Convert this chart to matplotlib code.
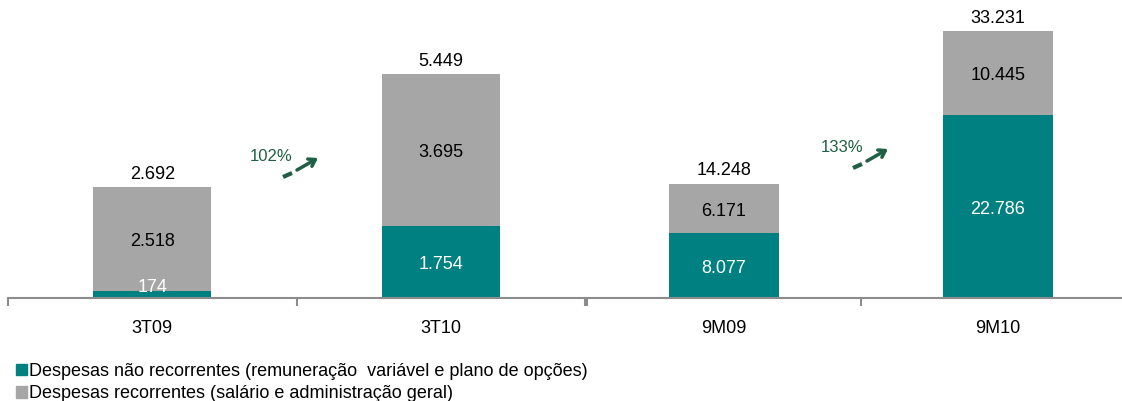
import matplotlib.pyplot as plt
from matplotlib.patches import Patch

plt.rcParams['font.family'] = ['Liberation Sans', 'DejaVu Sans']

# dados (R$ mil)
cat_tri = ['3T09', '3T10']
nao_rec_tri = [174, 1754]
rec_tri = [2518, 3695]

cat_9m = ['9M09', '9M10']
nao_rec_9m = [8077, 22786]
rec_9m = [6171, 10445]

crescimento = ['102%', '133%']

TEAL = '#008080'
GREY = '#a6a6a6'
AXIS = '#8c8c8c'
GREEN = '#1f5f45'
FS = 13


def fmt(v):
    return f'{v:,}'.replace(',', '.')


def draw_panel(ax, cats, nao_rec, rec, ymax, width):
    x = range(len(cats))
    ax.bar(x, nao_rec, width=width, color=TEAL)
    ax.bar(x, rec, bottom=nao_rec, width=width, color=GREY)
    for i in x:
        tot = nao_rec[i] + rec[i]
        ax.annotate(fmt(tot), (i, tot), xytext=(0, 3), textcoords='offset points',
                    ha='center', va='bottom', fontsize=FS, color='black',
                    annotation_clip=False)
        ax.annotate(fmt(rec[i]), (i, nao_rec[i] + rec[i] / 2), xytext=(0, -2),
                    textcoords='offset points', ha='center', va='center',
                    fontsize=FS, color='black')
        if nao_rec[i] / ymax > 0.05:
            ax.annotate(fmt(nao_rec[i]), (i, nao_rec[i] / 2), xytext=(0, -2),
                        textcoords='offset points', ha='center', va='center',
                        fontsize=FS, color='white')
        else:
            ax.annotate(fmt(nao_rec[i]), (i, nao_rec[i]), xytext=(0, -4),
                        textcoords='offset points', ha='center', va='bottom',
                        fontsize=FS, color='white')
    ax.set_xlim(-0.5, len(cats) - 0.5)
    ax.set_ylim(0, ymax)
    for s in ['top', 'right', 'left']:
        ax.spines[s].set_visible(False)
    ax.spines['bottom'].set_color(AXIS)
    ax.spines['bottom'].set_linewidth(1.5)
    ax.set_yticks([])
    ax.set_xticks([i - 0.5 for i in range(len(cats) + 1)])
    ax.set_xticklabels([])
    ax.tick_params(axis='x', which='major', direction='out', length=6, width=1.5, color=AXIS)
    ax.set_xticks(list(x), minor=True)
    ax.set_xticklabels(cats, minor=True, fontsize=FS)
    ax.tick_params(axis='x', which='minor', length=0, pad=16)
    ax.patch.set_alpha(0)


fig = plt.figure(figsize=(11.22, 4.01), dpi=100)
base = (401 - 298) / 401
ax1 = fig.add_axes([8 / 1122, base, 577 / 1122, 1 - base])
ax2 = fig.add_axes([587 / 1122, base, 548 / 1122, 1 - base])

draw_panel(ax1, cat_tri, nao_rec_tri, rec_tri, 7250, 0.41)
draw_panel(ax2, cat_9m, nao_rec_9m, rec_9m, 37100, 0.405)


def seta(label, tx, ty, x0, y0):
    # coordenadas em pixels da figura (origem em cima)
    H = 401.0
    fig.text(tx / 1122, 1 - ty / H, label, color=GREEN, fontsize=12, ha='center', va='center')
    fig.add_artist(plt.Line2D([x0 / 1122, (x0 + 9) / 1122],
                              [1 - y0 / H, 1 - (y0 - 4) / H],
                              color=GREEN, lw=3, solid_capstyle='butt'))
    fig.add_artist(plt.Annotation('', xy=((x0 + 35) / 1122, 1 - (y0 - 19) / H),
                                  xytext=((x0 + 14) / 1122, 1 - (y0 - 7) / H),
                                  xycoords='figure fraction', textcoords='figure fraction',
                                  arrowprops=dict(arrowstyle='->,head_length=0.45,head_width=0.3',
                                                  color=GREEN, lw=2.5,
                                                  shrinkA=0, shrinkB=0)))


seta(crescimento[0], 271, 157, 283, 177)
seta(crescimento[1], 842, 148, 853, 168)

handles = [Patch(color=TEAL), Patch(color=GREY)]
labels = ['Despesas não recorrentes (remuneração  variável e plano de opções)',
          'Despesas recorrentes (salário e administração geral)']
fig.legend(handles, labels, loc='upper left', bbox_to_anchor=(0.014, 1 - 363 / 401),
           frameon=False, fontsize=FS, handlelength=0.6, handleheight=0.6,
           handletextpad=0.15, labelspacing=0.3, borderaxespad=0, borderpad=0)

fig.savefig('out.png', dpi=100)
